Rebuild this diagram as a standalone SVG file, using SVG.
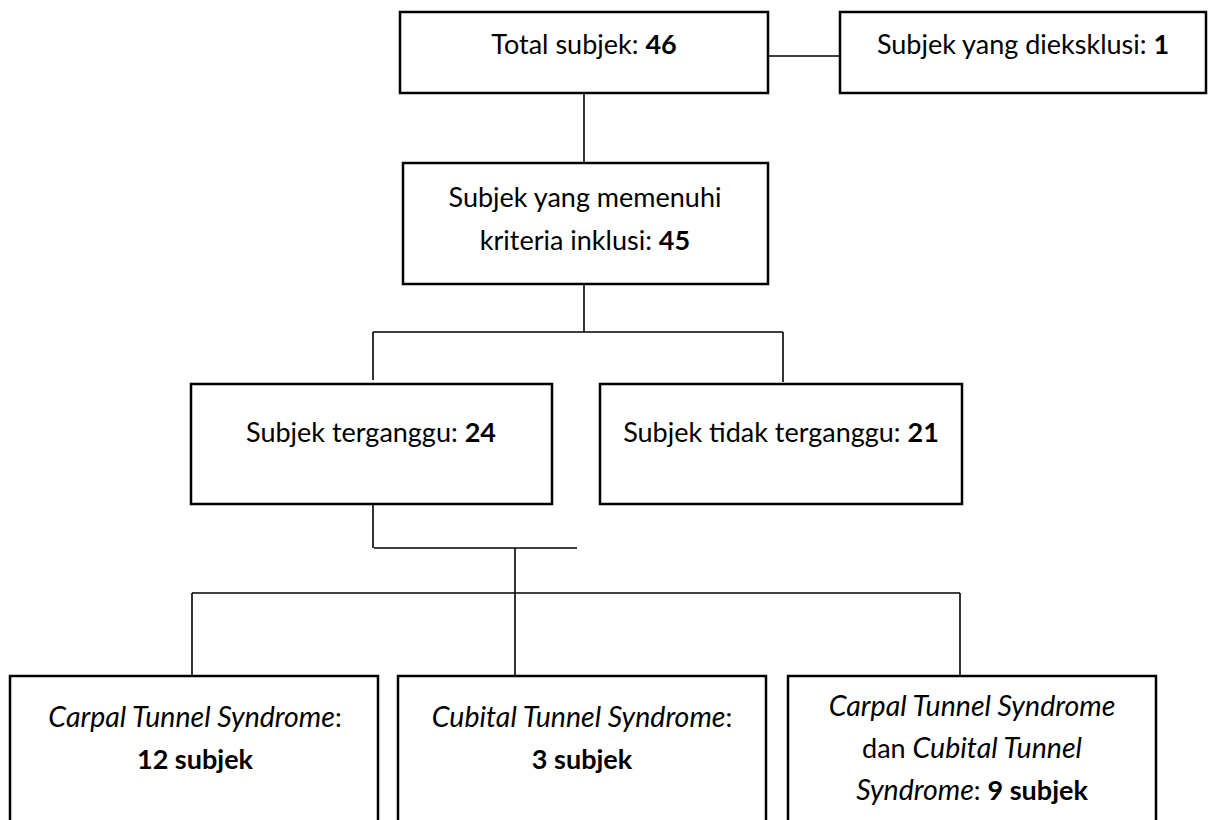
<svg xmlns="http://www.w3.org/2000/svg" width="1209" height="820" viewBox="0 0 1209 820">
<style>
.box{fill:#fff;stroke:#000;stroke-width:2.5}
.ln{stroke:#000;stroke-width:1.6;fill:none}
text{font-family:Lato,"Noto Sans",sans-serif;font-size:27px;fill:#000;text-anchor:middle}
.b{font-weight:bold}
.i{font-style:italic;font-size:28.5px}
</style>
<rect width="1209" height="820" fill="#fff"/>
<g id="connectors">
<line class="ln" x1="768" y1="56" x2="840" y2="56"/>
<line class="ln" x1="584" y1="93" x2="584" y2="163"/>
<line class="ln" x1="584" y1="284" x2="584" y2="332"/>
<line class="ln" x1="373" y1="332" x2="783" y2="332"/>
<line class="ln" x1="373" y1="332" x2="373" y2="380"/>
<line class="ln" x1="783" y1="332" x2="783" y2="382"/>
<line class="ln" x1="373" y1="505" x2="373" y2="548"/>
<line class="ln" x1="374" y1="548" x2="577" y2="548"/>
<line class="ln" x1="515" y1="548" x2="515" y2="676"/>
<line class="ln" x1="192" y1="593" x2="960" y2="593"/>
<line class="ln" x1="192" y1="593" x2="192" y2="676"/>
<line class="ln" x1="960" y1="593" x2="960" y2="676"/>
</g>
<g id="total">
<rect class="box" x="400" y="12" width="368" height="81"/>
<text x="584" y="54">Total subjek: <tspan class="b">46</tspan></text>
</g>
<g id="excluded">
<rect class="box" x="840" y="12" width="366" height="81"/>
<text x="1023" y="54">Subjek yang dieksklusi: <tspan class="b">1</tspan></text>
</g>
<g id="included">
<rect class="box" x="403" y="163" width="365" height="121"/>
<text x="585" y="207">Subjek yang memenuhi</text>
<text x="585" y="250">kriteria inklusi: <tspan class="b">45</tspan></text>
</g>
<g id="disturbed">
<rect class="box" x="191" y="384" width="361" height="120"/>
<text x="371" y="442">Subjek terganggu: <tspan class="b">24</tspan></text>
</g>
<g id="not-disturbed">
<rect class="box" x="600" y="384" width="362" height="120"/>
<text x="781" y="442">Subjek tidak terganggu: <tspan class="b">21</tspan></text>
</g>
<g id="cts">
<rect class="box" x="10" y="676" width="368" height="160"/>
<text x="195" y="727"><tspan class="i">Carpal Tunnel Syndrome</tspan>:</text>
<text x="195" y="769" class="b">12 subjek</text>
</g>
<g id="cubts">
<rect class="box" x="398" y="676" width="368" height="160"/>
<text x="582" y="727"><tspan class="i">Cubital Tunnel Syndrome</tspan>:</text>
<text x="582" y="769" class="b">3 subjek</text>
</g>
<g id="both">
<rect class="box" x="788" y="676" width="368" height="160"/>
<text x="972" y="716" class="i">Carpal Tunnel Syndrome</text>
<text x="972" y="758">dan <tspan class="i">Cubital Tunnel</tspan></text>
<text x="972" y="800"><tspan class="i">Syndrome</tspan>: <tspan class="b">9 subjek</tspan></text>
</g>
</svg>
